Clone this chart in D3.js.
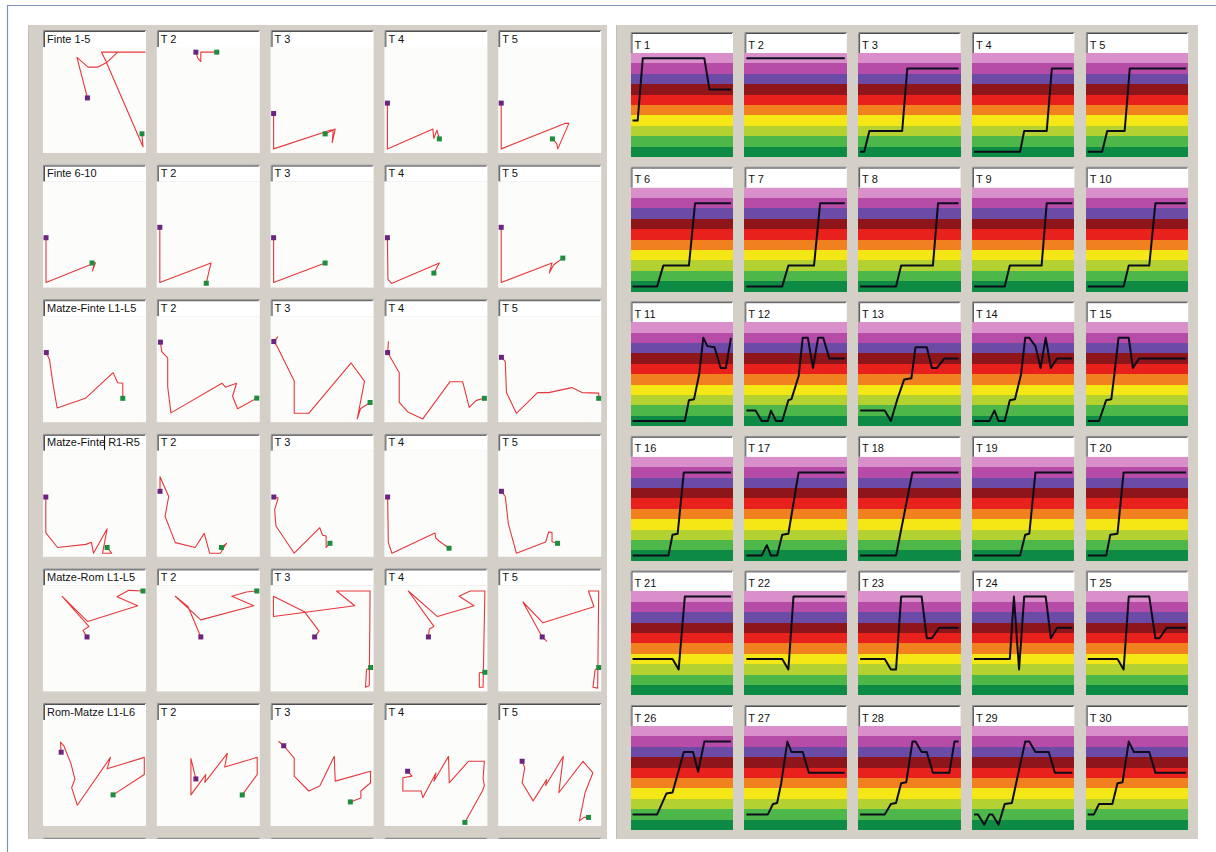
<!DOCTYPE html>
<html><head><meta charset="utf-8">
<script src="https://cdn.jsdelivr.net/npm/d3@7"></script>
<style>body{margin:0;background:#fff;} svg{display:block}</style>
</head><body><svg id="c" width="1216" height="852"></svg>
<script>
// ---------------- DATA ----------------
const leftTitles = [
  "Finte 1-5","T 2","T 3","T 4","T 5",
  "Finte 6-10","T 2","T 3","T 4","T 5",
  "Matze-Finte L1-L5","T 2","T 3","T 4","T 5",
  "Matze-Finte R1-R5","T 2","T 3","T 4","T 5",
  "Matze-Rom L1-L5","T 2","T 3","T 4","T 5",
  "Rom-Matze L1-L6","T 2","T 3","T 4","T 5"
];
// trajectories: [x, y] in 0..100 (y up); first point = start (purple), last = end (green)
const leftPaths = [
  [[43,52],[32.6,91],[43.6,81.6],[53,81.6],[62,86],[73,96],[100,96],[57,96],[61,88],[98,5],[97,17.5]],
  [[37.7,96],[39.5,90.5],[42.6,87],[42.6,96],[58.4,96]],
  [[2,37],[2,3],[58,21],[61,21],[60,9],[63,22],[53,17.4]],
  [[2,47],[2,3],[47,22],[48,13],[51,21],[53.4,12.6]],
  [[2,47],[2,3],[65,27.5],[69,27.5],[58,3],[57,8],[52.7,12.6]],

  [[2,47],[2,4],[50,22.7],[48,15],[51,23],[47.6,22.7]],
  [[2,57],[2,4],[52.7,22.7],[50.5,14],[48,3.2]],
  [[2,47],[2,4],[53,22.7]],
  [[2,47],[2.5,7],[6,3],[53.4,22.7],[48,13]],
  [[2,57],[2,4],[52.3,22.7],[49.5,13],[54,21],[63,27.4]],

  [[2.3,66],[5.5,59],[8.8,36.5],[13,12.7],[41,22],[68.4,46.7],[73,37],[78,36.5],[78,22]],
  [[2.6,76],[3.9,67],[9.8,61],[9.8,33],[13,8],[63.5,36.5],[67,32.7],[78,36.5],[74,24],[79,12],[98,22.2]],
  [[2.2,76.6],[6,81],[2.2,76.6],[5.4,72],[22.4,38.6],[22.4,7.6],[36.8,7.6],[78.7,56],[92,38.6],[84.8,2.2],[88,12],[97.5,18]],
  [[2.2,66],[3,76.6],[2.2,66],[13.7,46.5],[13.7,18],[22.7,8.5],[37,2.2],[64,38],[76.5,38],[83,13.3],[90,20],[98,22]],
  [[2.2,61.4],[6,57.6],[7.2,27.5],[17,7.6],[38,27.5],[49,27.5],[72,32.3],[82,27.5],[98.5,27],[98.5,22]],

  [[1.8,56.5],[1.8,22],[13.4,8],[41.5,11],[47,13],[49,2.5],[62.5,26],[58,2.5],[67,2.5],[62.5,8]],
  [[2.2,62],[2.2,76],[10.8,57],[7.2,38],[17.3,12.7],[37,8],[46,21.6],[51.3,2.5],[62,2.5],[68,12],[63,8]],
  [[2.2,56.5],[6.5,55.5],[3,44.4],[4.3,28.6],[22.4,2.5],[47.7,27],[50.5,19.7],[54,19],[54,8],[57.8,12]],
  [[2.2,56.5],[2.9,12.7],[6.5,2.5],[49,22],[50,17],[53.4,14],[63,7.3]],
  [[2.2,62],[6,57],[9,31],[17,2.5],[46,13.3],[49,23],[52.3,22.4],[52.3,13.5],[57.8,12]],

  [[42.6,51.4],[38.6,57.7],[44.4,61.5],[18,90.5],[43.3,66.2],[92.8,81.4],[72.2,90],[84,96.2],[98,95.6]],
  [[42.6,51.4],[30,80.4],[17.3,90.5],[42.6,67.8],[95,81.4],[73.3,90.5],[87.7,94.6],[98,95.6]],
  [[42.6,51.4],[47,57],[32.5,75.7],[1.8,90.5],[1.8,71],[82.3,81.4],[64.3,95.6],[97.5,95.6],[96.7,4.7],[93,3],[94,20],[98,22]],
  [[42.6,51.4],[43.5,59],[48,61.5],[22.7,95.6],[51.6,71],[87.7,81.4],[73,90.5],[84,95.6],[98.5,95.6],[96.7,3],[93,3],[93,17],[98.5,17.4]],
  [[42.6,51.4],[47,47.3],[42.6,51.4],[23.5,85],[43.3,65],[93.8,80.4],[88.4,95.6],[98.5,95.6],[97.5,2.2],[92.8,3],[95,20],[98.5,22]],

  [[17,70],[16.3,79.7],[19.5,76.4],[26.7,59],[30.6,44],[27.4,36],[33,19],[65.8,65],[62.5,54],[99.3,65],[99.3,48.5],[68.4,29]],
  [[37.7,44.3],[32.8,64],[32.8,28.9],[47.5,48.5],[46.6,41],[68.9,68.9],[66.2,55.7],[98.4,65],[98.4,48.5],[83.6,28.9]],
  [[12,76.2],[7.2,80.3],[12,76.2],[22.4,64.4],[22.4,47],[36.8,32.7],[47.7,37.5],[62,66],[63,42.2],[98,51.7],[98,40.6],[88.4,32.7],[88.4,26],[78,22.2]],
  [[22,51.7],[26.4,47],[17.3,45.4],[17.3,32.7],[35.4,32.7],[37,26.3],[50,50],[48,42],[62.5,66],[63.2,40.6],[82.3,61.3],[98,61.3],[96.7,45],[98,38],[96,32.7],[78.7,2.5]],
  [[22.7,61.3],[25.3,55],[22.7,40.6],[33.6,23.2],[47,43.8],[46,38],[63.5,66],[59,31],[83,61.3],[92.8,50.2],[85,31],[79.4,4],[84,7.3],[88.4,7.3]]
];

const rightTitles = d3.range(1, 31).map(i => "T " + i);
// level series: [time 0..100, level 0..10]
const rightSeries = [
  [[2,3.5],[7,3.5],[12,9.5],[72,9.5],[77,6.5],[98,6.5]],
  [[2,9.5],[98,9.5]],
  [[2,0.5],[6,0.5],[11,2.5],[43,2.5],[48,8.5],[98,8.5]],
  [[2,0.5],[47,0.5],[51,2.5],[73,2.5],[78,8.5],[98,8.5]],
  [[2,0.5],[16,0.5],[21,2.5],[38,2.5],[43,8.5],[98,8.5]],

  [[2,0.5],[26,0.5],[32,2.5],[57,2.5],[63,8.5],[98,8.5]],
  [[2,0.5],[37,0.5],[43,2.5],[68,2.5],[74,8.5],[98,8.5]],
  [[2,0.5],[37,0.5],[42,2.5],[73,2.5],[78,8.5],[98,8.5]],
  [[2,0.5],[32,0.5],[37,2.5],[68,2.5],[73,8.5],[98,8.5]],
  [[2,0.5],[37,0.5],[42,2.5],[62,2.5],[68,8.5],[98,8.5]],

  [[2,0.5],[53,0.5],[57,2.5],[62,2.6],[67,5],[71,8.5],[75,7.7],[82,7.6],[88,5.6],[93,5.6],[98,8.5]],
  [[2,1.5],[11,1.5],[17,0.5],[23,0.5],[26,1.5],[31,0.5],[37,0.5],[43,2.5],[46,2.6],[53,4.8],[57,8.5],[62,8.5],[67,5.6],[72,8.5],[77,8.5],[83,6.5],[98,6.5]],
  [[2,1.5],[26,1.5],[32,0.5],[38,2.5],[45,4.5],[52,4.6],[56,7.6],[67,7.6],[72,5.6],[77,5.6],[84,6.5],[98,6.5]],
  [[2,0.5],[17,0.5],[22,1.5],[26,0.5],[32,0.5],[37,2.5],[42,2.6],[48,5],[52,8.5],[56,8.5],[62,7.7],[67,5.6],[72,8.5],[77,5.6],[83,6.5],[98,6.5]],
  [[2,0.5],[13,0.5],[20,2.5],[25,2.6],[28,5],[32,8.5],[42,8.5],[46,5.6],[52,6.5],[98,6.5]],

  [[2,0.5],[37,0.5],[41,2.5],[46,2.6],[52,8.5],[98,8.5]],
  [[2,0.5],[17,0.5],[22,1.5],[26,0.5],[32,0.5],[37,2.5],[43,2.6],[53,8.5],[98,8.5]],
  [[2,0.5],[37,0.5],[53,8.5],[98,8.5]],
  [[2,0.5],[47,0.5],[52,2.5],[56,2.6],[62,8.5],[98,8.5]],
  [[2,0.5],[20,0.5],[24,2.5],[31,2.6],[37,8.5],[98,8.5]],

  [[2,3.5],[41,3.5],[47,2.5],[53,9.5],[98,9.5]],
  [[2,3.5],[37,3.5],[43,2.5],[48,9.5],[98,9.5]],
  [[2,3.5],[26,3.5],[32,2.5],[37,2.5],[42,9.5],[62,9.5],[67,5.5],[72,5.5],[79,6.5],[98,6.5]],
  [[2,3.5],[37,3.5],[41,9.5],[46,2.5],[51,9.5],[72,9.5],[77,5.5],[83,6.5],[98,6.5]],
  [[2,3.5],[31,3.5],[37,2.5],[42,9.5],[62,9.5],[68,5.5],[72,5.5],[79,6.5],[98,6.5]],

  [[2,1.5],[26,1.5],[35,3.5],[41,3.6],[52,7.5],[61,7.5],[66,5.6],[72,8.5],[98,8.5]],
  [[2,1.5],[23,1.5],[28,2.5],[32,2.6],[36,4.5],[42,8.5],[46,7.5],[57,7.5],[63,5.5],[98,5.5]],
  [[2,1.5],[26,1.5],[32,2.5],[37,2.6],[42,4.5],[47,4.6],[53,8.5],[56,8.5],[62,7.5],[67,7.5],[73,5.5],[89,5.5],[94,8.5],[98,8.5]],
  [[2,1.5],[6,1.5],[12,0.5],[17,1.5],[20,1.5],[26,0.5],[32,2.5],[39,2.6],[52,8.5],[56,8.5],[62,7.5],[75,7.5],[81,5.5],[98,5.5]],
  [[2,1.5],[8,1.5],[13,2.5],[26,2.5],[31,4.5],[36,4.6],[42,8.5],[47,7.5],[62,7.5],[68,5.5],[98,5.5]]
];

// level bands, listed from the top band to the bottom band
const bandColors = ["#d98fc9","#b64ca8","#6b4ba6","#8e1519","#e8211d","#f0811e","#f5e716","#b3d231","#4db849","#0d8b45"];

// ---------------- DRAWING ----------------
const svg = d3.select("#c");
const FONT = "'Liberation Sans', Arial, sans-serif";

svg.append("rect").attr("width",1216).attr("height",852).attr("fill","#ffffff");
svg.append("path").attr("d","M7.5,852 V5.5 H1216").attr("fill","none").attr("stroke","#7f90ba").attr("stroke-width",1.2);

// panels
svg.append("rect").attr("x",28).attr("y",25).attr("width",579).attr("height",814).attr("fill","#d4d0c8");
svg.append("rect").attr("x",616).attr("y",25).attr("width",582).attr("height",814).attr("fill","#d4d0c8");
svg.append("line").attr("x1",616.5).attr("x2",616.5).attr("y1",25).attr("y2",839).attr("stroke","#c2beb6");
svg.append("line").attr("x1",28.5).attr("x2",28.5).attr("y1",25).attr("y2",839).attr("stroke","#c2beb6");

function titleBox(g, x, y, w, h, text){
  g.append("rect").attr("x",x).attr("y",y).attr("width",w).attr("height",h).attr("fill","#ffffff");
  g.append("path").attr("d",`M${x+0.5},${y+h} V${y+0.5} H${x+w}`).attr("fill","none").attr("stroke","#8a8a8a");
  g.append("path").attr("d",`M${x+1.5},${y+h} V${y+1.5} H${x+w-1}`).attr("fill","none").attr("stroke","#505050");
  if (text !== null) {
    g.append("text").attr("x",x+4).attr("y",y+h-4.5).attr("font-family",FONT).attr("font-size",11)
      .attr("fill","#111").text(text);
  }
}

// ---- left panel: trajectories ----
const Lcol = d3.scaleLinear().domain([0,1]).range([43, 43+113.8]);
const Lrow = d3.scaleLinear().domain([0,1]).range([30, 30+134.6]);
const LW = 103, LTH = 17, LPH = 106;
const clipL = svg.append("clipPath").attr("id","clipL");
clipL.append("rect").attr("x",28).attr("y",25).attr("width",579).attr("height",814);
const gL = svg.append("g").attr("clip-path","url(#clipL)");

leftTitles.forEach((title, k) => {
  const r = Math.floor(k/5), c = k%5;
  const x0 = Lcol(c), y0 = Lrow(r);
  const g = gL.append("g");
  titleBox(g, x0, y0, LW, LTH, title);
  if (title === "Matze-Finte R1-R5") {
    const t = g.append("text").attr("font-family",FONT).attr("font-size",11).text("Matze-Finte ");
    const wpre = t.node().getComputedTextLength(); t.remove();
    g.append("line").attr("x1",x0+4+wpre-0.5).attr("x2",x0+4+wpre-0.5).attr("y1",y0+2).attr("y2",y0+LTH-1)
      .attr("stroke","#000").attr("stroke-width",1);
  }
  const py = y0 + LTH;
  g.append("rect").attr("x",x0).attr("y",py).attr("width",LW).attr("height",LPH).attr("fill","#fcfcfa");
  const xs = d3.scaleLinear().domain([0,100]).range([x0+1, x0+LW-1]);
  const ys = d3.scaleLinear().domain([0,100]).range([py+LPH-1, py+1]);
  const pts = leftPaths[k];
  g.append("path").datum(pts)
    .attr("d", d3.line().x(d=>xs(d[0])).y(d=>ys(d[1])))
    .attr("fill","none").attr("stroke","#e5383d").attr("stroke-width",1.1).attr("stroke-linejoin","round");
  const s = pts[0], e = pts[pts.length-1];
  g.append("rect").attr("x",xs(s[0])-2.5).attr("y",ys(s[1])-2.5).attr("width",5).attr("height",5).attr("fill","#6b2580");
  g.append("rect").attr("x",xs(e[0])-2.5).attr("y",ys(e[1])-2.5).attr("width",5).attr("height",5).attr("fill","#1d8d3d");
});
// next row peeking in at the bottom of the scrolled left panel
d3.range(5).forEach(c => titleBox(gL.append("g"), Lcol(c), Lrow(6), LW, LTH, null));

// ---- right panel: level series ----
const Rcol = d3.scaleLinear().domain([0,1]).range([630.5, 630.5+113.8]);
const Rrow = d3.scaleLinear().domain([0,1]).range([32, 32+134.6]);
const RW = 102.5, RTH = 21, RPH = 104;

rightTitles.forEach((title, k) => {
  const r = Math.floor(k/5), c = k%5;
  const x0 = Rcol(c), y0 = Rrow(r);
  const g = svg.append("g");
  titleBox(g, x0, y0, RW, RTH, title);
  const py = y0 + RTH;
  const xs = d3.scaleLinear().domain([0,100]).range([x0, x0+RW]);
  const ys = d3.scaleLinear().domain([0,bandColors.length]).range([py+RPH, py]);
  g.selectAll("rect.band").data(bandColors).enter().append("rect").attr("class","band")
    .attr("x",x0).attr("width",RW)
    .attr("y",(d,i)=>ys(bandColors.length-i))
    .attr("height",(d,i)=>ys(bandColors.length-i-1)-ys(bandColors.length-i))
    .attr("fill",d=>d).attr("shape-rendering","crispEdges");
  g.append("path").datum(rightSeries[k])
    .attr("d", d3.line().x(d=>xs(d[0])).y(d=>ys(d[1])))
    .attr("fill","none").attr("stroke","#0d0c1a").attr("stroke-width",2).attr("stroke-linejoin","round");
});
</script></body></html>
